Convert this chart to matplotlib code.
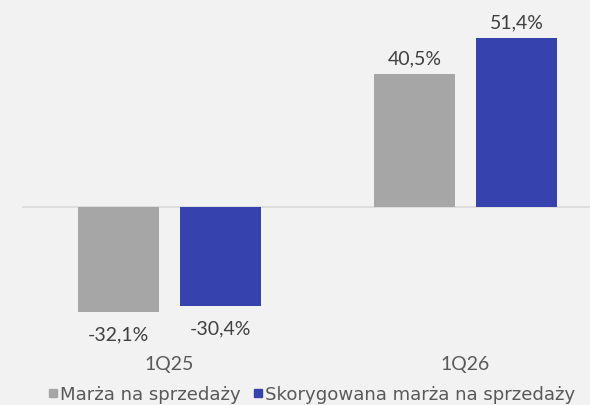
import numpy as np
import matplotlib
matplotlib.use("Agg")
import matplotlib.pyplot as plt
from matplotlib.lines import Line2D

categories = ["1Q25", "1Q26"]
series_names = ["Marża na sprzedaży", "Skorygowana marża na sprzedaży"]
marza = [-32.1, 40.5]
skorygowana = [-30.4, 51.4]

colors = ["#a6a6a6", "#3643ae"]
bg = "#f2f2f2"
text_color = "#404040"

plt.rcParams["font.family"] = ["Lato", "DejaVu Sans"]

fig = plt.figure(figsize=(5.9, 4.06), dpi=100, facecolor=bg)
# axes is wider than the figure: the original picture is cropped on the right
ax = fig.add_axes([21.5 / 590, 61 / 406, 592 / 590, 345 / 406])
ax.set_facecolor(bg)

x = np.arange(len(categories))
width = 0.274
offset = 0.173

for vals, name, col, dx in [(marza, series_names[0], colors[0], -offset),
                             (skorygowana, series_names[1], colors[1], offset)]:
    bars = ax.bar(x + dx, vals, width, color=col, label=name, zorder=2)
    for b, v in zip(bars, vals):
        label = f"{v:.1f}%".replace(".", ",")
        ax.annotate(label, (b.get_x() + b.get_width() / 2, v),
                    xytext=(0, 7.5 if v >= 0 else -20), textcoords="offset points",
                    ha="center", va="baseline", fontsize=14, color=text_color)

ax.axhline(0, color="#d9d9d9", lw=1.2, zorder=1)
ax.set_xlim(-0.5, 1.5)
ax.set_ylim(-42.0, 63.4)
ax.set_xticks(x, categories)
ax.tick_params(axis="x", length=0, pad=8, labelsize=14, labelcolor="#595959")
ax.set_yticks([])
for s in ax.spines.values():
    s.set_visible(False)

# legend font is wider than Lato in the original
handles = [Line2D([], [], marker="s", linestyle="none", markersize=5.8,
                  color=c, label=n) for c, n in zip(colors, series_names)]
leg = fig.legend(handles=handles, loc="center left", bbox_to_anchor=(49 / 590, 1 - 395 / 406),
                 ncol=2, frameon=False, labelcolor="#595959",
                 prop={"family": "DejaVu Sans", "size": 13.1},
                 handlelength=0.45, handletextpad=0.15, columnspacing=0.75,
                 borderaxespad=0, borderpad=0)

fig.savefig("out.png", dpi=100, facecolor=bg)
